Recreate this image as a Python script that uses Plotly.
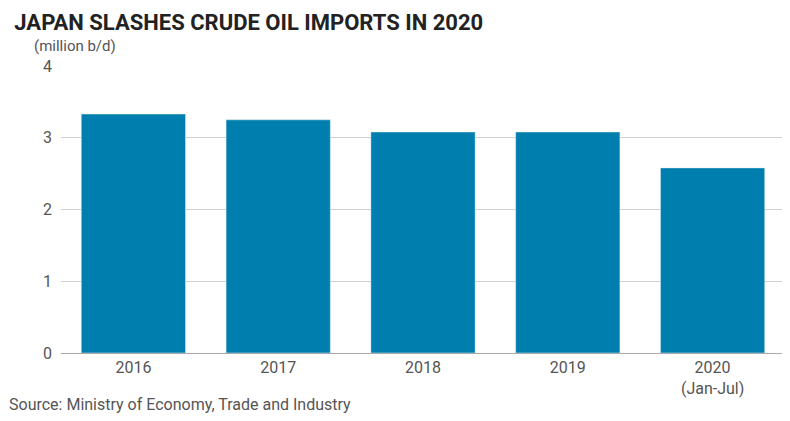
import plotly.graph_objects as go

categories = ["2016", "2017", "2018", "2019", "2020<br>(Jan-Jul)"]
values = [3.33, 3.25, 3.08, 3.08, 2.58]
tick_vals = [0, 1, 2, 3, 4]

fig = go.Figure(go.Bar(x=categories, y=values, marker_color="#007fae", width=0.72))
fig.update_layout(
    width=790, height=421, plot_bgcolor="white", paper_bgcolor="white",
    margin=dict(l=53, r=13, t=58, b=76),
    font=dict(family="Roboto", size=16, color="#555"),
    title=dict(text="<b>JAPAN SLASHES CRUDE OIL IMPORTS IN 2020</b>", x=0.008, y=0.985,
               xanchor="left", yanchor="top", font=dict(family="Roboto", size=22, color="#222")),
    showlegend=False,
)
fig.update_yaxes(range=[0, 4], tickvals=tick_vals, showgrid=True, gridcolor="#d0d0d0",
                 zeroline=False, ticks="", ticklabelstandoff=8)
fig.update_xaxes(showline=True, linecolor="#aaa", tickfont=dict(size=16))
fig.add_annotation(text="(million b/d)", xref="paper", yref="paper", x=-0.04, y=1.03,
                   xanchor="left", yanchor="bottom", showarrow=False, font=dict(size=15, color="#555"))
fig.add_annotation(text="Source: Ministry of Economy, Trade and Industry", xref="paper", yref="paper",
                   x=-0.075, y=-0.18, xanchor="left", yanchor="middle", showarrow=False,
                   font=dict(size=16, color="#555"))
fig.write_html("out.html")
